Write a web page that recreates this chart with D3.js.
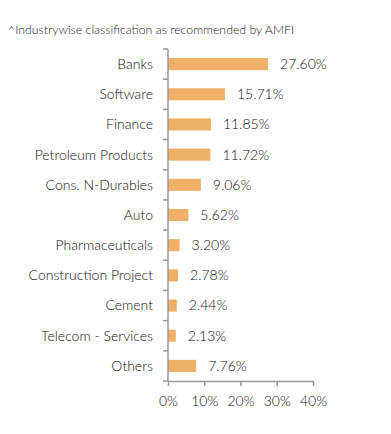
<!DOCTYPE html>
<html>
<head>
<meta charset="utf-8">
<script src="https://cdn.jsdelivr.net/npm/d3@7"></script>
<style>
  body { margin: 0; background: #fff; }
  text { font-family: Lato, "Open Sans", sans-serif; font-weight: 300; }
</style>
</head>
<body>
<div id="chart"></div>
<script>
// Industry allocation data
const industries = ["Banks", "Software", "Finance", "Petroleum Products", "Cons. N-Durables",
  "Auto", "Pharmaceuticals", "Construction Project", "Cement", "Telecom - Services", "Others"];
const weights = [27.60, 15.71, 11.85, 11.72, 9.06, 5.62, 3.20, 2.78, 2.44, 2.13, 7.76];
const xTicks = [0, 10, 20, 30, 40];

const width = 391, height = 434;
const margin = { top: 49, right: 78, bottom: 53, left: 168 };

const svg = d3.select("#chart").append("svg")
  .attr("width", width)
  .attr("height", height);

svg.append("text")
  .attr("x", 8)
  .attr("y", 34)
  .attr("font-size", 12.3)
  .attr("fill", "#222")
  .text("^Industrywise classification as recommended by AMFI");

const x = d3.scaleLinear().domain([0, 40]).range([margin.left, width - margin.right]);
const y = d3.scaleBand().domain(industries)
  .range([margin.top, height - margin.bottom])
  .paddingInner(0.6).paddingOuter(0.3);

const rows = industries.map((name, i) => ({ name, value: weights[i] }));

// bars
svg.selectAll(".bar")
  .data(rows)
  .enter().append("rect")
  .attr("class", "bar")
  .attr("x", x(0))
  .attr("y", d => y(d.name))
  .attr("width", d => x(d.value) - x(0))
  .attr("height", y.bandwidth())
  .attr("fill", "#F0B068");

// value labels
svg.selectAll(".val")
  .data(rows)
  .enter().append("text")
  .attr("class", "val")
  .attr("x", d => x(d.value) + 12)
  .attr("y", d => y(d.name) + y.bandwidth() / 2)
  .attr("dy", "0.35em")
  .attr("font-size", 14)
  .attr("fill", "#111")
  .text(d => d.value.toFixed(2) + "%");

// y axis with ticks between categories
const yAxis = svg.append("g")
  .attr("transform", `translate(${margin.left},0)`);
const bounds = d3.range(industries.length + 1).map(i => margin.top + i * (height - margin.bottom - margin.top) / industries.length);
yAxis.append("line")
  .attr("x1", 0).attr("x2", 0)
  .attr("y1", margin.top).attr("y2", height - margin.bottom)
  .attr("stroke", "#999").attr("stroke-width", 1.5);
yAxis.selectAll(".yt")
  .data(bounds)
  .enter().append("line")
  .attr("x1", -5).attr("x2", 0)
  .attr("y1", d => d).attr("y2", d => d)
  .attr("stroke", "#999").attr("stroke-width", 1.5);
yAxis.selectAll(".cat")
  .data(industries)
  .enter().append("text")
  .attr("x", -15)
  .attr("y", d => y(d) + y.bandwidth() / 2)
  .attr("dy", "0.35em")
  .attr("text-anchor", "end")
  .attr("font-size", 14)
  .attr("font-weight", 400)
  .attr("fill", "#111")
  .text(d => d);

// x axis
const xAxis = svg.append("g")
  .attr("transform", `translate(0,${height - margin.bottom})`)
  .call(d3.axisBottom(x).tickValues(xTicks).tickFormat(d => d + "%").tickSize(5).tickSizeOuter(0));
xAxis.select(".domain").attr("stroke", "#999").attr("stroke-width", 1.5);
xAxis.selectAll(".tick line").attr("stroke", "#999").attr("stroke-width", 1.5);
xAxis.selectAll(".tick text")
  .attr("font-family", "Lato, sans-serif")
  .attr("font-weight", 300)
  .attr("font-size", 14)
  .attr("fill", "#111")
  .attr("y", 15);
</script>
</body>
</html>
